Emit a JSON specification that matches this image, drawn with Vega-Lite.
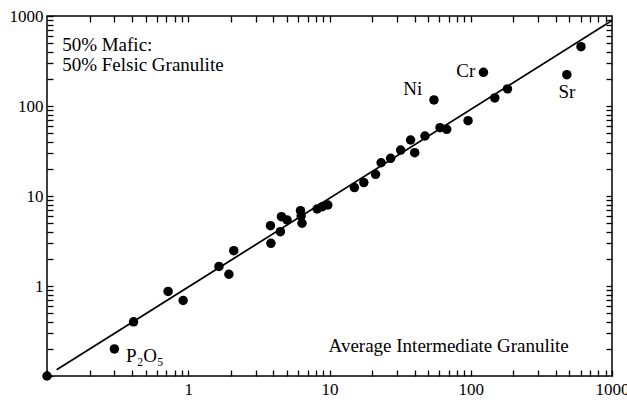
{
  "$schema": "https://vega.github.io/schema/vega-lite/v6.json",
  "autosize": "none",
  "width": 565,
  "height": 360,
  "padding": {"left": 47, "top": 16, "right": 15, "bottom": 30},
  "background": "white",
  "config": {
    "view": {"stroke": "black", "strokeWidth": 1.5},
    "font": "Liberation Serif",
    "axis": {
      "domain": false, "tickColor": "black", "tickWidth": 1.3,
      "grid": false, "ticks": true
    }
  },
  "datasets": {
    "pts": [
      {"x": 0.1, "y": 0.1}, {"x": 0.3, "y": 0.2}, {"x": 0.41, "y": 0.40}, {"x": 0.72, "y": 0.87},
      {"x": 0.92, "y": 0.69}, {"x": 1.65, "y": 1.65}, {"x": 1.94, "y": 1.35}, {"x": 2.10, "y": 2.47},
      {"x": 3.82, "y": 4.68}, {"x": 3.85, "y": 2.98}, {"x": 4.49, "y": 4.01}, {"x": 4.57, "y": 5.89},
      {"x": 5.01, "y": 5.41}, {"x": 6.23, "y": 6.87}, {"x": 6.3, "y": 5.99}, {"x": 6.39, "y": 4.98},
      {"x": 8.18, "y": 7.17}, {"x": 8.9, "y": 7.6}, {"x": 9.73, "y": 7.94}, {"x": 15.0, "y": 12.4},
      {"x": 17.5, "y": 14.1}, {"x": 21.2, "y": 17.4}, {"x": 23.2, "y": 23.4}, {"x": 27.1, "y": 26.2},
      {"x": 31.9, "y": 32.4}, {"x": 37.5, "y": 41.9}, {"x": 40.1, "y": 30.3}, {"x": 47.4, "y": 46.4},
      {"x": 60.6, "y": 57.4}, {"x": 67.6, "y": 55.1}, {"x": 95.7, "y": 68.7}, {"x": 54.9, "y": 116.7},
      {"x": 123, "y": 237}, {"x": 148, "y": 123}, {"x": 182, "y": 155}, {"x": 479, "y": 223},
      {"x": 603, "y": 456}
    ],
    "fit": [{"x": 0.117, "y": 0.117}, {"x": 1000, "y": 890}],
    "notesLeft": [
      {"x": 0.128, "y": 476, "t": "50% Mafic:"},
      {"x": 0.128, "y": 286, "t": "50% Felsic Granulite"},
      {"x": 0.363, "y": 0.167, "t": "P₂O₅"}
    ],
    "notesCenter": [
      {"x": 69.8, "y": 0.215, "t": "Average Intermediate Granulite"},
      {"x": 38.8, "y": 154, "t": "Ni"},
      {"x": 92.3, "y": 245, "t": "Cr"},
      {"x": 480, "y": 143, "t": "Sr"}
    ]
  },
  "layer": [
    {
      "data": {"name": "fit"},
      "mark": {"type": "line", "color": "black", "strokeWidth": 1.8, "clip": true},
      "encoding": {
        "x": {"field": "x", "type": "quantitative", "scale": {"type": "log", "domain": [0.1, 1000], "nice": false},
          "axis": {"orient": "bottom", "title": null, "offset": -6, "tickSize": 6,
            "values": [0.1,0.2,0.3,0.4,0.5,0.6,0.7,0.8,0.9,1,2,3,4,5,6,7,8,9,10,20,30,40,50,60,70,80,90,100,200,300,400,500,600,700,800,900,1000],
            "labelExpr": "(datum.value==1||datum.value==10||datum.value==100||datum.value==1000) ? ''+datum.value : ''",
            "labelFont": "Liberation Serif", "labelFontSize": 17, "labelColor": "black",
            "labelPadding": 5, "labelFlush": false, "labelOverlap": false}},
        "y": {"field": "y", "type": "quantitative", "scale": {"type": "log", "domain": [0.1, 1000], "nice": false},
          "axis": {"orient": "left", "title": null, "offset": -6, "tickSize": 6,
            "values": [0.1,0.2,0.3,0.4,0.5,0.6,0.7,0.8,0.9,1,2,3,4,5,6,7,8,9,10,20,30,40,50,60,70,80,90,100,200,300,400,500,600,700,800,900,1000],
            "labelExpr": "(datum.value==1||datum.value==10||datum.value==100||datum.value==1000) ? ''+datum.value : ''",
            "labelFont": "Liberation Serif", "labelFontSize": 17, "labelColor": "black",
            "labelPadding": 4, "labelFlush": false, "labelOverlap": false}}
      }
    },
    {
      "data": {"name": "pts"},
      "mark": {"type": "circle", "color": "black", "opacity": 1, "size": 90, "clip": false},
      "encoding": {
        "x": {"field": "x", "type": "quantitative",
          "axis": {"orient": "top", "title": null, "offset": -6, "tickSize": 6, "labels": false,
            "values": [0.2,0.3,0.4,0.5,0.6,0.7,0.8,0.9,1,2,3,4,5,6,7,8,9,10,20,30,40,50,60,70,80,90,100,200,300,400,500,600,700,800,900]}},
        "y": {"field": "y", "type": "quantitative",
          "axis": {"orient": "right", "title": null, "offset": -6, "tickSize": 6, "labels": false,
            "values": [0.2,0.3,0.4,0.5,0.6,0.7,0.8,0.9,1,2,3,4,5,6,7,8,9,10,20,30,40,50,60,70,80,90,100,200,300,400,500,600,700,800,900]}}
      }
    },
    {
      "data": {"name": "notesLeft"},
      "mark": {"type": "text", "font": "Liberation Serif", "fontSize": 19, "color": "black", "baseline": "middle", "align": "left"},
      "encoding": {
        "x": {"field": "x", "type": "quantitative", "axis": null},
        "y": {"field": "y", "type": "quantitative", "axis": null},
        "text": {"field": "t"}
      }
    },
    {
      "data": {"name": "notesCenter"},
      "mark": {"type": "text", "font": "Liberation Serif", "fontSize": 19, "color": "black", "baseline": "middle", "align": "center"},
      "encoding": {
        "x": {"field": "x", "type": "quantitative", "axis": null},
        "y": {"field": "y", "type": "quantitative", "axis": null},
        "text": {"field": "t"}
      }
    }
  ],
  "resolve": {"axis": {"x": "independent", "y": "independent"}}
}
